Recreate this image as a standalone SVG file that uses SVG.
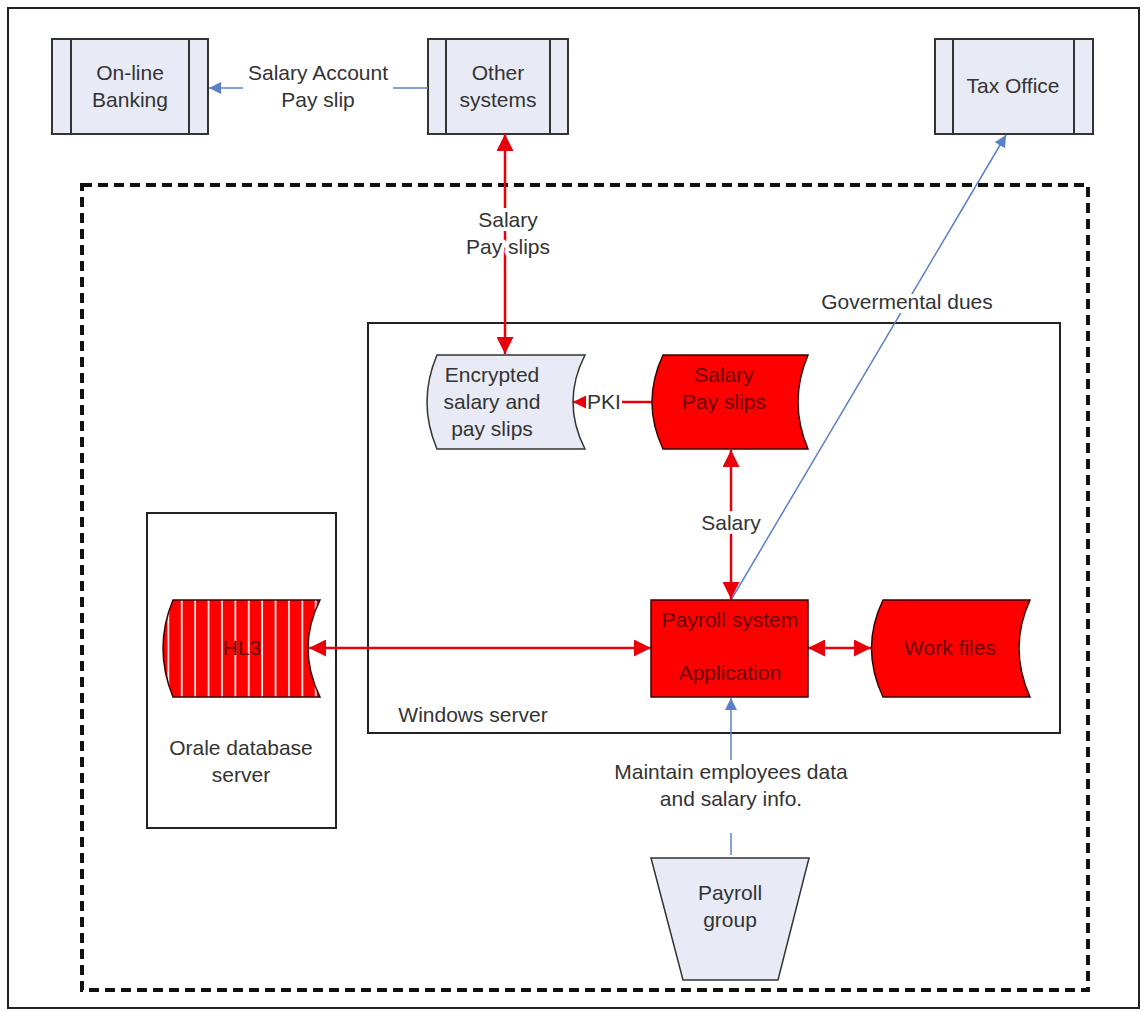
<svg xmlns="http://www.w3.org/2000/svg" width="1146" height="1011" viewBox="0 0 1146 1011">
<style>
  text { font-family: "Liberation Sans", Arial, sans-serif; font-size: 21px; fill: #333; text-anchor: middle; }
  .lbl { paint-order: stroke; stroke: #fff; stroke-width: 8px; stroke-linejoin: round; }
  .rt { fill: #6a0000; }
  .ext { fill: #e8ebf6; stroke: #333; stroke-width: 2; }
  .extl { stroke: #333; stroke-width: 2; fill: none; }
  .light { fill: #e8ebf6; stroke: #333; stroke-width: 1.5; }
  .red { fill: #ff0000; stroke: #3a0000; stroke-width: 1.5; }
  .box { fill: #fff; stroke: #222; stroke-width: 2; }
  .rl { stroke: #e8000a; stroke-width: 2.5; fill: none; }
  .bl { stroke: #5b80c8; stroke-width: 1.5; fill: none; }
</style>
<defs>
  <marker id="ra" viewBox="0 0 10 10" refX="10" refY="5" markerWidth="17" markerHeight="17" markerUnits="userSpaceOnUse" orient="auto-start-reverse">
    <path d="M0,0 L10,5 L0,10 Z" fill="#e8000a"/>
  </marker>
  <marker id="ras" viewBox="0 0 10 10" refX="10" refY="5" markerWidth="13" markerHeight="14" markerUnits="userSpaceOnUse" orient="auto-start-reverse">
    <path d="M0,0 L10,5 L0,10 Z" fill="#e8000a"/>
  </marker>
  <marker id="ba" viewBox="0 0 10 10" refX="10" refY="5" markerWidth="12" markerHeight="12" markerUnits="userSpaceOnUse" orient="auto-start-reverse">
    <path d="M0,0 L10,5 L0,10 Z" fill="#5b80c8"/>
  </marker>
  <pattern id="stripes" patternUnits="userSpaceOnUse" x="175" y="0" width="13.4" height="10">
    <rect x="0" y="0" width="13.4" height="10" fill="#ff0000"/>
    <rect x="6" y="0" width="1.6" height="10" fill="#ffffff"/>
  </pattern>
</defs>

<rect x="0" y="0" width="1146" height="1011" fill="#fff"/>
<rect x="8" y="8" width="1131" height="1000" fill="none" stroke="#222" stroke-width="2"/>
<rect x="82" y="185" width="1006" height="805" fill="none" stroke="#111" stroke-width="4" stroke-dasharray="10 6"/>

<g id="windows-server">
  <rect class="box" x="368" y="323" width="692" height="410"/>
  <text x="473" y="722">Windows server</text>
</g>
<g id="oracle-server">
  <rect class="box" x="147" y="513" width="189" height="315"/>
  <text x="241" y="755">Orale database</text>
  <text x="241" y="782">server</text>
</g>

<g id="online-banking">
  <rect class="ext" x="52" y="39" width="156" height="95"/>
  <line class="extl" x1="71" y1="39" x2="71" y2="134"/>
  <line class="extl" x1="189" y1="39" x2="189" y2="134"/>
  <text x="130" y="80">On-line</text>
  <text x="130" y="107">Banking</text>
</g>
<g id="other-systems">
  <rect class="ext" x="428" y="39" width="140" height="95"/>
  <line class="extl" x1="446" y1="39" x2="446" y2="134"/>
  <line class="extl" x1="550" y1="39" x2="550" y2="134"/>
  <text x="498" y="80">Other</text>
  <text x="498" y="107">systems</text>
</g>
<g id="tax-office">
  <rect class="ext" x="935" y="39" width="158" height="95"/>
  <line class="extl" x1="953" y1="39" x2="953" y2="134"/>
  <line class="extl" x1="1074" y1="39" x2="1074" y2="134"/>
  <text x="1013" y="93">Tax Office</text>
</g>

<g id="connectors">
  <line class="bl" x1="428" y1="88" x2="393" y2="88"/>
  <line class="bl" x1="243" y1="88" x2="209" y2="88" marker-end="url(#ba)"/>
  <line class="rl" x1="505" y1="134" x2="505" y2="354" marker-start="url(#ra)" marker-end="url(#ra)"/>
  <line class="bl" x1="731" y1="600" x2="1006" y2="135" marker-end="url(#ba)"/>
  <line class="rl" x1="652" y1="402" x2="622" y2="402"/>
  <line class="rl" x1="586" y1="402" x2="573" y2="402" marker-end="url(#ras)"/>
  <line class="rl" x1="731" y1="450" x2="731" y2="599" marker-start="url(#ra)" marker-end="url(#ra)"/>
  <line class="rl" x1="651" y1="648" x2="309" y2="648" marker-start="url(#ra)" marker-end="url(#ra)"/>
  <line class="rl" x1="808" y1="648" x2="871" y2="648" marker-start="url(#ra)" marker-end="url(#ra)"/>
  <line class="bl" x1="731" y1="855" x2="731" y2="833"/>
  <line class="bl" x1="731" y1="760" x2="731" y2="698" marker-end="url(#ba)"/>
</g>

<g id="labels">
  <text x="318" y="80">Salary Account</text>
  <text x="318" y="107">Pay slip</text>
  <text class="lbl" x="508" y="227">Salary</text>
  <text class="lbl" x="508" y="254">Pay slips</text>
  <text class="lbl" x="907" y="309">Govermental dues</text>
  <text x="604" y="409">PKI</text>
  <text class="lbl" x="731" y="530">Salary</text>
  <text class="lbl" x="731" y="779">Maintain employees data</text>
  <text class="lbl" x="731" y="806">and salary info.</text>
</g>

<g id="encrypted">
  <path class="light" d="M437,355 L585,355 Q561,402 585,449 L437,449 Q417,402 437,355 Z"/>
  <text x="492" y="382">Encrypted</text>
  <text x="492" y="409">salary and</text>
  <text x="492" y="436">pay slips</text>
</g>
<g id="salary-payslips">
  <path class="red" d="M663,355 L808,355 Q788,402 808,449 L663,449 Q641,402 663,355 Z"/>
  <text class="rt" x="724" y="382">Salary</text>
  <text class="rt" x="724" y="409">Pay slips</text>
</g>
<g id="payroll-system">
  <rect class="red" x="651" y="600" width="157" height="97"/>
  <text class="rt" x="730" y="627">Payroll system</text>
  <text class="rt" x="730" y="680">Application</text>
</g>
<g id="work-files">
  <path class="red" d="M883,600 L1030,600 Q1008,648 1030,697 L883,697 Q860,648 883,600 Z"/>
  <text class="rt" x="950" y="655">Work files</text>
</g>
<g id="hl3">
  <path d="M173,600 L320,600 Q296,648 320,697 L173,697 Q153,648 173,600 Z" fill="url(#stripes)" stroke="#3a0000" stroke-width="1.5"/>
  <text class="rt" x="242" y="655">HL3</text>
</g>
<g id="payroll-group">
  <path class="light" d="M651,858 L809,858 L778,980 L683,980 Z"/>
  <text x="730" y="900">Payroll</text>
  <text x="730" y="927">group</text>
</g>
</svg>
